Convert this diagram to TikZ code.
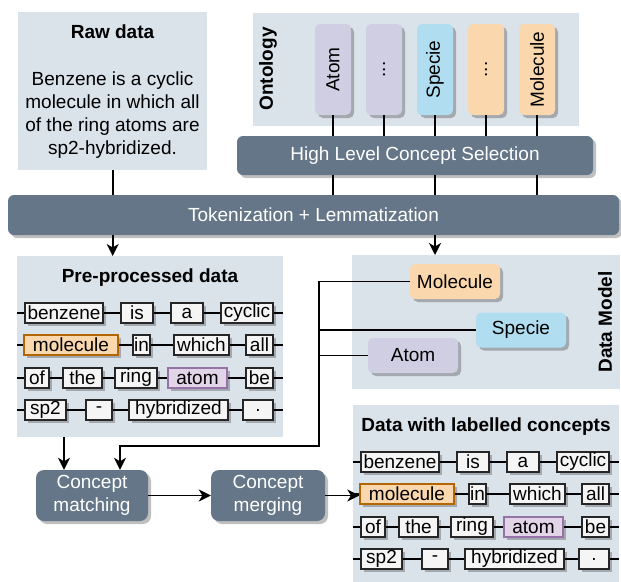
\documentclass[tikz,border=0pt]{standalone}
\usepackage{fontspec}
\setmainfont{Liberation Sans}
\usetikzlibrary{shadows,arrows.meta}

\definecolor{panelbg}{HTML}{DAE2EA}
\definecolor{slate}{HTML}{647687}
\definecolor{lav}{HTML}{D0CEE2}
\definecolor{lblue}{HTML}{B1DDF0}
\definecolor{orng}{HTML}{FAD7AC}
\definecolor{tokfill}{HTML}{F5F5F5}
\definecolor{molline}{HTML}{B46504}
\definecolor{atomfill}{HTML}{E1D5E7}
\definecolor{atomline}{HTML}{9673A6}

\newcommand{\threedots}{...}

\tikzset{
  shad/.style={drop shadow={shadow xshift=3pt,shadow yshift=-3pt,fill=black,opacity=0.25}},
  panel/.style={fill=panelbg,inner sep=0pt,anchor=north west},
  bar/.style={fill=slate,text=white,rounded corners=6pt,inner sep=0pt,shad},
  obox/.style={rounded corners=5pt,inner sep=0pt,minimum width=36pt,minimum height=91pt,shad},
  dbox/.style={rounded corners=5pt,inner sep=0pt,minimum width=90pt,minimum height=35pt,shad},
  tok/.style={draw=black!85,fill=tokfill,line width=1.3pt,inner sep=0pt,minimum height=20pt,shad},
  tokmol/.style={tok,draw=molline,fill=orng},
  tokatom/.style={tok,draw=atomline,fill=atomfill},
  ttl/.style={font=\fontsize{19}{23}\selectfont\bfseries},
  conn/.style={line width=1.6pt},
  arr/.style={conn,-{Stealth[length=12pt,width=12pt,inset=3.5pt]}},
}

% #1 name, #2 #3 top left corner, #4 height, #5 title
\newcommand{\tokenpanel}[5]{%
  \begin{scope}[shift={(#2,#3)}]
    \node[panel,minimum width=266pt,minimum height=#4pt] (#1) at (0,0) {};
    \node[ttl] (#1-title) at (133,22) {#5};
    \foreach \lx/\rx/\w/\st [count=\i] in {8/86/benzene/tok,104/136/is/tok,154/186/a/tok,204/256/cyclic/tok}
      \node[\st,minimum width=\rx-\lx] (#1-a\i) at ({(\lx+\rx)/2},57) {\w};
    \foreach \lx/\rx/\w/\st [count=\i] in {7/101/molecule/tokmol,116/133/in/tok,157/212/which/tok,229/256/all/tok}
      \node[\st,minimum width=\rx-\lx] (#1-b\i) at ({(\lx+\rx)/2},89) {\w};
    \foreach \lx/\rx/\w/\st [count=\i] in {8/32/of/tok,46/85/the/tok,98/140/ring/tok,151/210/atom/tokatom,229/256/be/tok}
      \node[\st,minimum width=\rx-\lx] (#1-c\i) at ({(\lx+\rx)/2},122) {\w};
    \foreach \lx/\rx/\w/\st [count=\i] in {8/49/sp2/tok,69/95/-/tok,112/211/hybridized/tok,226/256/./tok}
      \node[\st,minimum width=\rx-\lx] (#1-d\i) at ({(\lx+\rx)/2},154) {\w};
    \foreach \rw/\nn in {a/4,b/4,c/5,d/4}{
      \draw[conn] (#1.west |- #1-\rw1) -- (#1-\rw1);
      \foreach \i in {2,...,\nn}{
        \pgfmathtruncatemacro\pv{\i-1}
        \draw[conn] (#1-\rw\pv) -- (#1-\rw\i);
      }
      \draw[conn] (#1-\rw\nn) -- (#1.east |- #1-\rw\nn);
    }
  \end{scope}}

\begin{document}
\begin{tikzpicture}[x=1pt,y=-1pt,font=\fontsize{19}{23}\selectfont]
  \useasboundingbox (0,0) rectangle (621,581);

  \node[panel,minimum width=189pt,minimum height=158pt] (raw) at (18,12) {};
  \node[ttl] (rawtitle) at (112.5,32) {Raw data};
  \node[align=center] (rawtxt) at (112.5,115) {Benzene is a cyclic\\molecule in which all\\of the ring atoms are\\sp2-hybridized.};

  \node[panel,minimum width=326pt,minimum height=113pt] (onto) at (253,13) {};
  \node[ttl,rotate=90] (ontolbl) at (268,69) {Ontology};

  \node[bar,minimum width=356pt,minimum height=39pt] (hl) at (415,155.5) {High Level Concept Selection};
  \node[bar,minimum width=611pt,minimum height=40pt] (tok) at (313.5,215) {Tokenization + Lemmatization};

  \foreach \x/\c/\w [count=\i] in {333/lav/Atom,384/lav/\threedots,435/lblue/Specie,486/orng/\threedots,537/orng/Molecule}{
    \node[obox,fill=\c] (o\i) at (\x,69.5) {};
    \node[rotate=90] (o\i-lbl) at (o\i) {\w};
    \draw[conn] (o\i) -- (o\i |- hl.north);
  }
  \foreach \i in {1,3,5}
    \draw[conn] (o\i |- hl.south) -- (o\i |- tok.north);

  \draw[conn] (raw) -- (raw |- tok.north);

  \tokenpanel{pre}{17}{256}{181}{Pre-processed data}

  \node[panel,minimum width=268pt,minimum height=134pt] (dm) at (352,255) {};
  \node[ttl,rotate=90] (dmlbl) at (605,322) {Data Model};
  \node[dbox,fill=orng] (dmMol) at (455,281.5) {Molecule};
  \node[dbox,fill=lblue] (dmSpe) at (521,330) {Specie};
  \node[dbox,fill=lav] (dmAtom) at (413,355.5) {Atom};

  \draw[arr] (raw |- tok.south) -- (raw |- pre.north);
  \draw[arr] (o3 |- tok.south) -- (o3 |- dm.north);

  \node[bar,rounded corners=8pt,align=center,minimum width=112pt,minimum height=51pt] (match) at (92,495.5) {Concept\\matching};
  \node[bar,rounded corners=8pt,align=center,minimum width=114pt,minimum height=51pt] (merge) at (268,495.5) {Concept\\merging};

  \tokenpanel{lab}{353}{405}{180}{Data with labelled concepts}

  \coordinate (bend) at (319,446);
  \coordinate (mIn) at ([xshift=28pt]match.north);
  \coordinate (pIn) at ([xshift=-28pt]match.north);
  \draw[arr] (dmMol) -| (bend) -| (mIn);
  \draw[conn] (dmSpe) -- (dmSpe -| bend);
  \draw[conn] (dmAtom) -- (dmAtom -| bend);
  \draw[arr] (pIn |- pre.south) -- (pIn);
  \draw[arr] (match) -- (merge);
  \draw[arr] (merge) -- (merge -| lab-b1.west);
\end{tikzpicture}
\end{document}
